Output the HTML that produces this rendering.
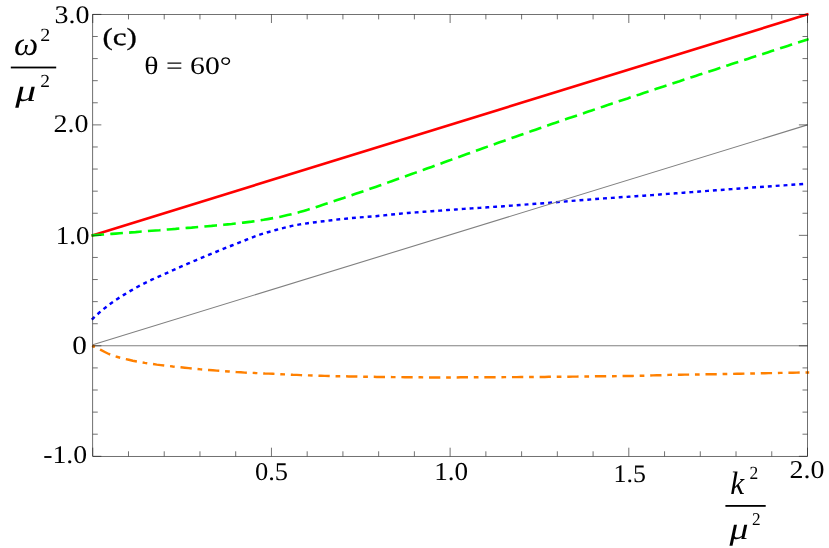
<!DOCTYPE html>
<html><head><meta charset="utf-8">
<style>
html,body{margin:0;padding:0;background:#fff;}
body{width:829px;height:548px;overflow:hidden;font-family:"Liberation Serif",serif;}
svg{display:block;}
text{font-family:"Liberation Serif",serif;fill:#000;text-rendering:geometricPrecision;}
</style></head><body>
<svg width="829" height="548" viewBox="0 0 829 548">
<rect width="829" height="548" fill="#fff"/>
<!-- curves -->
<path d="M91.5 235.7 L808.5 14.1" stroke="#ff0000" stroke-width="2.6" fill="none"/>
<path d="M91.6 235.4 L95.6 235.1 L99.6 234.8 L103.6 234.5 L107.6 234.2 L111.6 233.9 L115.6 233.6 L119.6 233.3 L123.6 233.0 L127.6 232.7 L131.6 232.4 L135.6 232.1 L139.6 231.7 L143.6 231.4 L147.6 231.1 L151.6 230.8 L155.6 230.5 L159.6 230.2 L163.6 229.8 L167.6 229.5 L171.6 229.2 L175.6 228.9 L179.6 228.5 L183.6 228.2 L187.6 227.9 L191.6 227.6 L195.6 227.2 L199.6 226.9 L203.6 226.6 L207.6 226.2 L211.6 225.9 L215.6 225.5 L219.6 225.2 L223.6 224.8 L227.6 224.4 L231.6 224.0 L235.6 223.5 L239.6 223.1 L243.6 222.6 L247.6 222.1 L251.6 221.6 L255.6 221.0 L259.6 220.4 L263.6 219.8 L267.6 219.1 L271.6 218.4 L275.6 217.7 L279.6 216.9 L283.6 216.0 L287.6 215.1 L291.6 214.2 L295.6 213.2 L299.6 212.1 L303.6 210.9 L307.6 209.7 L311.6 208.4 L315.6 207.2 L319.6 205.9 L323.6 204.6 L327.6 203.2 L331.6 201.9 L335.6 200.6 L339.6 199.2 L343.6 197.9 L347.6 196.5 L351.6 195.2 L355.6 193.8 L359.6 192.4 L363.6 191.1 L367.6 189.7 L371.6 188.3 L375.6 186.9 L379.6 185.5 L383.6 184.1 L387.6 182.6 L391.6 181.2 L395.6 179.8 L399.6 178.4 L403.6 176.9 L407.6 175.5 L411.6 174.1 L415.6 172.6 L419.6 171.2 L423.6 169.8 L427.6 168.3 L431.6 166.9 L435.6 165.4 L439.6 164.0 L443.6 162.5 L447.6 161.1 L451.6 159.6 L455.6 158.2 L459.6 156.7 L463.6 155.3 L467.6 153.8 L471.6 152.4 L475.6 150.9 L479.6 149.5 L483.6 148.1 L487.6 146.6 L491.6 145.2 L495.6 143.8 L499.6 142.3 L503.6 140.9 L507.6 139.5 L511.6 138.1 L515.6 136.7 L519.6 135.3 L523.6 133.9 L527.6 132.5 L531.6 131.1 L535.6 129.7 L539.6 128.3 L543.6 126.9 L547.6 125.5 L551.6 124.1 L555.6 122.8 L559.6 121.4 L563.6 120.0 L567.6 118.6 L571.6 117.3 L575.6 115.9 L579.6 114.5 L583.6 113.2 L587.6 111.8 L591.6 110.5 L595.6 109.1 L599.6 107.8 L603.6 106.4 L607.6 105.1 L611.6 103.7 L615.6 102.4 L619.6 101.0 L623.6 99.7 L627.6 98.4 L631.6 97.0 L635.6 95.7 L639.6 94.4 L643.6 93.0 L647.6 91.7 L651.6 90.4 L655.6 89.1 L659.6 87.7 L663.6 86.4 L667.6 85.1 L671.6 83.8 L675.6 82.5 L679.6 81.2 L683.6 79.8 L687.6 78.5 L691.6 77.2 L695.6 75.9 L699.6 74.6 L703.6 73.3 L707.6 72.0 L711.6 70.7 L715.6 69.4 L719.6 68.1 L723.6 66.7 L727.6 65.4 L731.6 64.1 L735.6 62.8 L739.6 61.5 L743.6 60.2 L747.6 58.9 L751.6 57.6 L755.6 56.3 L759.6 55.0 L763.6 53.7 L767.6 52.4 L771.6 51.1 L775.6 49.8 L779.6 48.5 L783.6 47.2 L787.6 45.9 L791.6 44.6 L795.6 43.3 L799.6 42.0 L803.6 40.7 L807.6 39.4 L808.6 39.1" stroke="#00ff00" stroke-width="2.6" fill="none" stroke-dasharray="12.65 6.23" stroke-dashoffset="0.15"/>
<path d="M91.8 319.6 L95.8 315.8 L99.8 312.2 L103.8 308.9 L107.8 305.7 L111.8 302.8 L115.8 300.0 L119.8 297.4 L123.8 294.9 L127.8 292.4 L131.8 290.1 L135.8 287.8 L139.8 285.7 L143.8 283.6 L147.8 281.6 L151.8 279.7 L155.8 277.9 L159.8 276.2 L163.8 274.4 L167.8 272.6 L171.8 270.8 L175.8 269.0 L179.8 267.2 L183.8 265.4 L187.8 263.7 L191.8 261.9 L195.8 260.3 L199.8 258.6 L203.8 256.9 L207.8 255.3 L211.8 253.6 L215.8 252.0 L219.8 250.4 L223.8 248.7 L227.8 247.1 L231.8 245.5 L235.8 243.9 L239.8 242.4 L243.8 240.8 L247.8 239.2 L251.8 237.6 L255.8 236.1 L259.8 234.7 L263.8 233.4 L267.8 232.2 L271.8 231.1 L275.8 230.0 L279.8 228.9 L283.8 227.9 L287.8 226.9 L291.8 225.9 L295.8 225.1 L299.8 224.4 L303.8 223.8 L307.8 223.2 L311.8 222.7 L315.8 222.2 L319.8 221.7 L323.8 221.2 L327.8 220.7 L331.8 220.2 L335.8 219.7 L339.8 219.3 L343.8 218.9 L347.8 218.5 L351.8 218.1 L355.8 217.7 L359.8 217.4 L363.8 217.1 L367.8 216.8 L371.8 216.5 L375.8 216.2 L379.8 215.8 L383.8 215.4 L387.8 214.9 L391.8 214.5 L395.8 214.1 L399.8 213.7 L403.8 213.3 L407.8 213.0 L411.8 212.7 L415.8 212.4 L419.8 212.1 L423.8 211.8 L427.8 211.5 L431.8 211.2 L435.8 210.9 L439.8 210.6 L443.8 210.3 L447.8 210.0 L451.8 209.8 L455.8 209.5 L459.8 209.2 L463.8 208.9 L467.8 208.7 L471.8 208.4 L475.8 208.1 L479.8 207.9 L483.8 207.6 L487.8 207.3 L491.8 207.0 L495.8 206.7 L499.8 206.5 L503.8 206.2 L507.8 205.9 L511.8 205.6 L515.8 205.3 L519.8 205.0 L523.8 204.7 L527.8 204.4 L531.8 204.1 L535.8 203.8 L539.8 203.5 L543.8 203.2 L547.8 202.9 L551.8 202.5 L555.8 202.2 L559.8 201.9 L563.8 201.6 L567.8 201.3 L571.8 200.9 L575.8 200.6 L579.8 200.3 L583.8 200.0 L587.8 199.7 L591.8 199.3 L595.8 199.0 L599.8 198.7 L603.8 198.4 L607.8 198.2 L611.8 197.9 L615.8 197.6 L619.8 197.3 L623.8 197.0 L627.8 196.8 L631.8 196.5 L635.8 196.2 L639.8 196.0 L643.8 195.7 L647.8 195.4 L651.8 195.1 L655.8 194.8 L659.8 194.5 L663.8 194.2 L667.8 193.9 L671.8 193.6 L675.8 193.3 L679.8 193.0 L683.8 192.7 L687.8 192.4 L691.8 192.1 L695.8 191.8 L699.8 191.5 L703.8 191.2 L707.8 190.9 L711.8 190.6 L715.8 190.3 L719.8 190.0 L723.8 189.7 L727.8 189.4 L731.8 189.1 L735.8 188.8 L739.8 188.5 L743.8 188.2 L747.8 187.9 L751.8 187.6 L755.8 187.3 L759.8 187.1 L763.8 186.8 L767.8 186.5 L771.8 186.2 L775.8 185.9 L779.8 185.6 L783.8 185.4 L787.8 185.1 L791.8 184.8 L795.8 184.5 L799.8 184.3 L803.5 184.0" stroke="#0000ff" stroke-width="2.45" fill="none" stroke-dasharray="3.9 3.97"/>
<!-- gray guide lines -->
<path d="M92.8 345.8 L807.5 345.8" stroke="#808080" stroke-width="1.1" fill="none"/>
<path d="M92.8 344.7 L807.5 124.9" stroke="#808080" stroke-width="1.1" fill="none"/>
<path d="M92.8 345.9 L96.8 347.9 L100.8 349.9 L104.8 352.0 L108.8 354.0 L112.8 355.5 L116.8 356.8 L120.8 357.9 L124.8 358.9 L128.8 359.8 L132.8 360.7 L136.8 361.5 L140.8 362.2 L144.8 362.9 L148.8 363.5 L152.8 364.0 L156.8 364.6 L160.8 365.1 L164.8 365.6 L168.8 366.0 L172.8 366.5 L176.8 366.9 L180.8 367.3 L184.8 367.7 L188.8 368.1 L192.8 368.6 L196.8 369.0 L200.8 369.4 L204.8 369.7 L208.8 370.0 L212.8 370.3 L216.8 370.6 L220.8 370.9 L224.8 371.2 L228.8 371.5 L232.8 371.8 L236.8 372.1 L240.8 372.3 L244.8 372.6 L248.8 372.8 L252.8 372.9 L256.8 373.1 L260.8 373.3 L264.8 373.5 L268.8 373.6 L272.8 373.8 L276.8 374.0 L280.8 374.2 L284.8 374.4 L288.8 374.6 L292.8 374.8 L296.8 374.9 L300.8 375.1 L304.8 375.3 L308.8 375.4 L312.8 375.6 L316.8 375.7 L320.8 375.8 L324.8 375.9 L328.8 376.0 L332.8 376.1 L336.8 376.2 L340.8 376.2 L344.8 376.3 L348.8 376.4 L352.8 376.4 L356.8 376.5 L360.8 376.6 L364.8 376.7 L368.8 376.7 L372.8 376.8 L376.8 376.9 L380.8 376.9 L384.8 377.0 L388.8 377.0 L392.8 377.1 L396.8 377.1 L400.8 377.1 L404.8 377.2 L408.8 377.2 L412.8 377.2 L416.8 377.3 L420.8 377.3 L424.8 377.4 L428.8 377.4 L432.8 377.4 L436.8 377.4 L440.8 377.4 L444.8 377.4 L448.8 377.4 L452.8 377.4 L456.8 377.4 L460.8 377.3 L464.8 377.3 L468.8 377.3 L472.8 377.3 L476.8 377.3 L480.8 377.2 L484.8 377.2 L488.8 377.2 L492.8 377.2 L496.8 377.2 L500.8 377.2 L504.8 377.1 L508.8 377.1 L512.8 377.1 L516.8 377.1 L520.8 377.0 L524.8 377.0 L528.8 377.0 L532.8 377.0 L536.8 376.9 L540.8 376.9 L544.8 376.9 L548.8 376.8 L552.8 376.8 L556.8 376.8 L560.8 376.7 L564.8 376.7 L568.8 376.7 L572.8 376.6 L576.8 376.6 L580.8 376.5 L584.8 376.5 L588.8 376.4 L592.8 376.4 L596.8 376.3 L600.8 376.3 L604.8 376.3 L608.8 376.2 L612.8 376.2 L616.8 376.1 L620.8 376.1 L624.8 376.0 L628.8 375.9 L632.8 375.9 L636.8 375.8 L640.8 375.7 L644.8 375.7 L648.8 375.6 L652.8 375.4 L656.8 375.3 L660.8 375.2 L664.8 375.0 L668.8 374.9 L672.8 374.8 L676.8 374.8 L680.8 374.7 L684.8 374.6 L688.8 374.6 L692.8 374.5 L696.8 374.5 L700.8 374.4 L704.8 374.3 L708.8 374.3 L712.8 374.2 L716.8 374.2 L720.8 374.1 L724.8 374.0 L728.8 373.9 L732.8 373.9 L736.8 373.8 L740.8 373.7 L744.8 373.6 L748.8 373.6 L752.8 373.5 L756.8 373.4 L760.8 373.3 L764.8 373.2 L768.8 373.1 L772.8 373.1 L776.8 373.0 L780.8 372.9 L784.8 372.8 L788.8 372.8 L792.8 372.7 L796.8 372.6 L800.8 372.5 L804.8 372.4 L808.8 372.4 L809.2 372.4" stroke="#ff8000" stroke-width="2.45" fill="none" stroke-dasharray="11.3 5.82 4.7 5.83" stroke-dashoffset="-8.1"/>
<circle cx="93.4" cy="346.3" r="1.5" fill="#e07000"/>
<!-- frame -->
<rect x="92.75" y="14.4" width="714.8" height="441.9" fill="none" stroke="#1a1a1a" stroke-width="0.62"/>
<path d="M92.75 456.3 v-8.6 M92.75 14.4 v8.6 M128.49 456.3 v-5.0 M128.49 14.4 v5.0 M164.23 456.3 v-5.0 M164.23 14.4 v5.0 M199.96 456.3 v-5.0 M199.96 14.4 v5.0 M235.70 456.3 v-5.0 M235.70 14.4 v5.0 M271.44 456.3 v-8.6 M271.44 14.4 v8.6 M307.18 456.3 v-5.0 M307.18 14.4 v5.0 M342.91 456.3 v-5.0 M342.91 14.4 v5.0 M378.65 456.3 v-5.0 M378.65 14.4 v5.0 M414.39 456.3 v-5.0 M414.39 14.4 v5.0 M450.12 456.3 v-8.6 M450.12 14.4 v8.6 M485.86 456.3 v-5.0 M485.86 14.4 v5.0 M521.60 456.3 v-5.0 M521.60 14.4 v5.0 M557.34 456.3 v-5.0 M557.34 14.4 v5.0 M593.08 456.3 v-5.0 M593.08 14.4 v5.0 M628.81 456.3 v-8.6 M628.81 14.4 v8.6 M664.55 456.3 v-5.0 M664.55 14.4 v5.0 M700.29 456.3 v-5.0 M700.29 14.4 v5.0 M736.02 456.3 v-5.0 M736.02 14.4 v5.0 M771.76 456.3 v-5.0 M771.76 14.4 v5.0 M807.50 456.3 v-8.6 M807.50 14.4 v8.6 M92.75 456.30 h8.6 M807.5 456.30 h-8.6 M92.75 434.20 h5.0 M807.5 434.20 h-5.0 M92.75 412.11 h5.0 M807.5 412.11 h-5.0 M92.75 390.01 h5.0 M807.5 390.01 h-5.0 M92.75 367.92 h5.0 M807.5 367.92 h-5.0 M92.75 345.82 h8.6 M807.5 345.82 h-8.6 M92.75 323.73 h5.0 M807.5 323.73 h-5.0 M92.75 301.63 h5.0 M807.5 301.63 h-5.0 M92.75 279.54 h5.0 M807.5 279.54 h-5.0 M92.75 257.45 h5.0 M807.5 257.45 h-5.0 M92.75 235.35 h8.6 M807.5 235.35 h-8.6 M92.75 213.25 h5.0 M807.5 213.25 h-5.0 M92.75 191.16 h5.0 M807.5 191.16 h-5.0 M92.75 169.06 h5.0 M807.5 169.06 h-5.0 M92.75 146.97 h5.0 M807.5 146.97 h-5.0 M92.75 124.88 h8.6 M807.5 124.88 h-8.6 M92.75 102.78 h5.0 M807.5 102.78 h-5.0 M92.75 80.68 h5.0 M807.5 80.68 h-5.0 M92.75 58.59 h5.0 M807.5 58.59 h-5.0 M92.75 36.49 h5.0 M807.5 36.49 h-5.0 M92.75 14.40 h8.6 M807.5 14.40 h-8.6" stroke="#1a1a1a" stroke-width="0.62" fill="none"/>
<!-- text -->
<g opacity="0.999">
<text transform="matrix(1.0771 0 0 0.9740 54.61 23.09)" font-size="26">3.0</text>
<text transform="matrix(1.0768 0 0 0.9797 53.62 132.09)" font-size="26">2.0</text>
<text transform="matrix(1.0402 0 0 0.9853 55.77 243.99)" font-size="26">1.0</text>
<text transform="matrix(1.1253 0 0 1.0088 72.34 353.59)" font-size="26">0</text>
<text transform="matrix(1.0688 0 0 0.9797 43.22 462.99)" font-size="26">-1.0</text>
<text transform="matrix(1.0199 0 0 0.9797 254.94 479.99)" font-size="26">0.5</text>
<text transform="matrix(1.0436 0 0 0.9910 434.27 480.19)" font-size="26">1.0</text>
<text transform="matrix(0.9966 0 0 0.9696 613.47 481.89)" font-size="26">1.5</text>
<text transform="matrix(1.0768 0 0 0.9853 789.52 478.19)" font-size="26">2.0</text>
<text transform="matrix(1.1930 0 0 0.9459 102.44 45.36)" font-size="26" stroke="#000" stroke-width="0.3" stroke-linejoin="round">(c)</text>
<text transform="matrix(1.1428 0 0 0.9656 144.26 74.00)" font-size="26">θ = 60°</text>
<text transform="matrix(1.3210 0 0 1.2860 14.01 55.32)" font-size="26" font-style="italic">ω</text>
<text transform="matrix(0.7675 0 0 0.7145 40.17 40.55)" font-size="26">2</text>
<text transform="matrix(1.6049 0 0 1.2004 15.29 101.48)" font-size="26" font-style="italic">μ</text>
<text transform="matrix(0.7484 0 0 0.7087 40.19 86.65)" font-size="26">2</text>
<text transform="matrix(1.2084 0 0 1.2528 730.14 493.55)" font-size="26" font-style="italic">k</text>
<text transform="matrix(0.6716 0 0 0.7145 749.38 478.65)" font-size="26">2</text>
<text transform="matrix(1.4575 0 0 1.1947 729.39 539.41)" font-size="26" font-style="italic">μ</text>
<text transform="matrix(0.6620 0 0 0.6913 751.89 525.15)" font-size="26">2</text>
</g>
<!-- fraction bars -->
<rect x="10.8" y="66.6" width="45.4" height="1.8" fill="#000"/>
<rect x="725.4" y="505.0" width="40.3" height="1.8" fill="#000"/>
</svg>
</body></html>
